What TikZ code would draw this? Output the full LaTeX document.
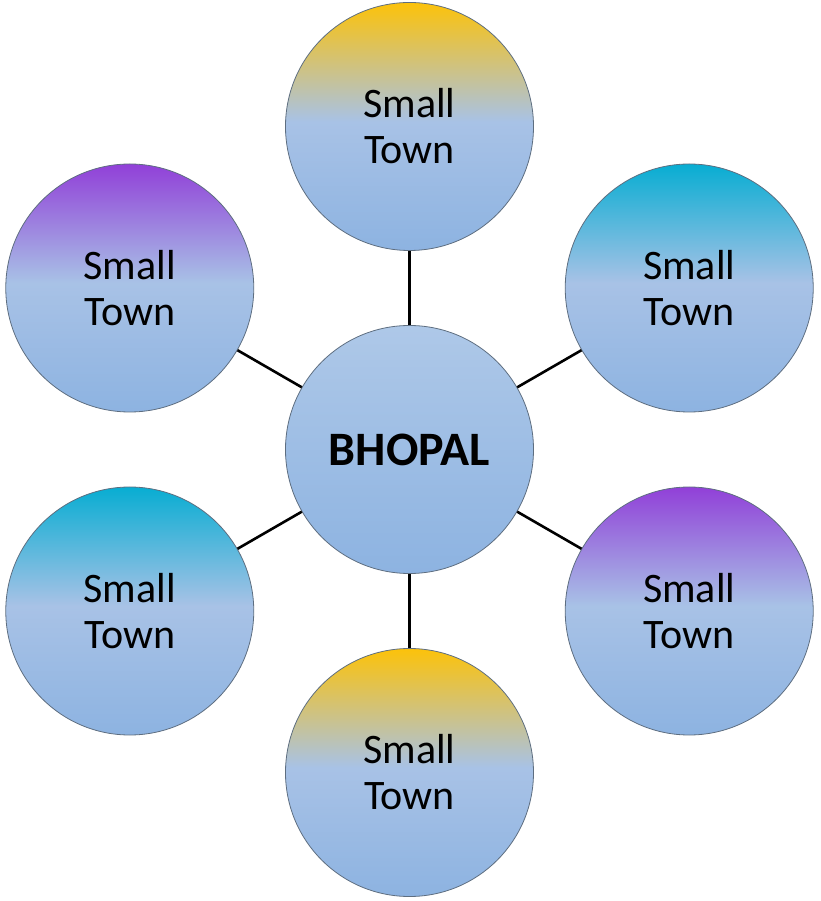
\documentclass[tikz,border=0pt]{standalone}
\usepackage{fontspec}
\setmainfont{Carlito}
\usepackage{tikz}
\usetikzlibrary{positioning,calc}

\definecolor{townbot}{HTML}{8DB3E1}
\definecolor{townmid}{HTML}{A8C2E6}
\definecolor{citytop}{HTML}{AEC8E8}
\definecolor{gold}{HTML}{FCC20A}
\definecolor{teal}{HTML}{08ADD2}
\definecolor{violet}{HTML}{9140D8}
\definecolor{rim}{HTML}{5E6E80}

\pgfdeclareverticalshading{citysh}{100bp}{color(0bp)=(townbot); color(25bp)=(townbot); color(75bp)=(citytop); color(100bp)=(citytop)}
\pgfdeclareverticalshading{goldsh}{100bp}{color(0bp)=(townbot); color(25bp)=(townbot); color(51bp)=(townmid); color(75bp)=(gold); color(100bp)=(gold)}
\pgfdeclareverticalshading{tealsh}{100bp}{color(0bp)=(townbot); color(25bp)=(townbot); color(51bp)=(townmid); color(75bp)=(teal); color(100bp)=(teal)}
\pgfdeclareverticalshading{violetsh}{100bp}{color(0bp)=(townbot); color(25bp)=(townbot); color(51bp)=(townmid); color(75bp)=(violet); color(100bp)=(violet)}

\begin{document}
\begin{tikzpicture}[x=1pt, y=1pt,
    every node/.style={circle, draw=rim, line width=0.8pt, minimum size=248pt, inner sep=0pt, align=center},
    every edge/.style={draw=black, line width=2.6pt},
    town/.style={font=\fontsize{42}{46}\selectfont},
    city/.style={shading=citysh, font=\fontsize{48}{50}\selectfont\bfseries}]
    \useasboundingbox (-409.5,-451.5) rectangle (410.5,449.5);

    \node[city] (bhopal) {BHOPAL};
    \node[town, shading=goldsh] (t1) at (90:323) {Small\\Town};
    \node[town, shading=tealsh] (t2) at (30:323) {Small\\Town};
    \node[town, shading=violetsh] (t3) at (-30:323) {Small\\Town};
    \node[town, shading=goldsh] (t4) at (-90:323) {Small\\Town};
    \node[town, shading=tealsh] (t5) at (210:323) {Small\\Town};
    \node[town, shading=violetsh] (t6) at (150:323) {Small\\Town};

    \path
        (bhopal) edge (t1)
        (bhopal) edge (t2)
        (bhopal) edge (t3)
        (bhopal) edge (t4)
        (bhopal) edge (t5)
        (bhopal) edge (t6);
\end{tikzpicture}
\end{document}
